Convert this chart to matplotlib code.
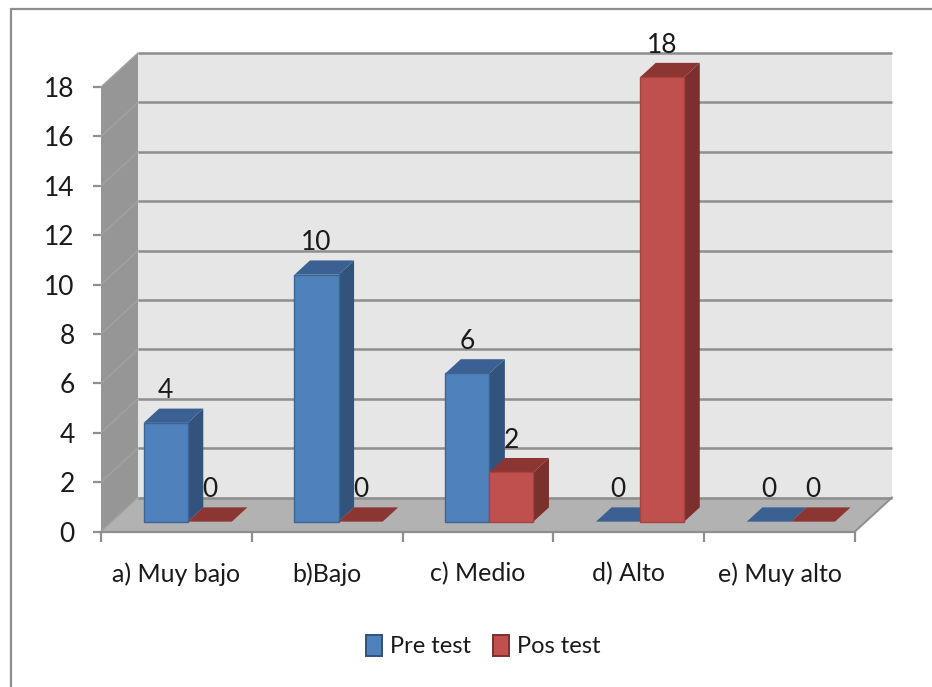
import matplotlib
matplotlib.use("Agg")
import matplotlib.pyplot as plt
from matplotlib.patches import Patch, Polygon, Rectangle

# ── Data ──────────────────────────────────────────────────────────────────────

categories = ["a) Muy bajo", "b)Bajo", "c) Medio", "d) Alto", "e) Muy alto"]
pre_test = [4, 10, 6, 0, 0]
pos_test = [0, 0, 2, 18, 0]
y_ticks = list(range(0, 20, 2))

# ── Style ─────────────────────────────────────────────────────────────────────

W, H = 932, 687
GRID = "#8e8e8e"
WALL = "#e6e6e6"
SIDE = "#969696"
FLOOR = "#b2b2b2"
TEXT = "#1a1a1a"
BLUE = ("#4f81bd", "#3b6597", "#31537c", "#3a6192")   # front, edge, side, top
RED = ("#c0504d", "#a8423f", "#7c302e", "#8c3633")

# depth of the box, in data units (37 px across, 34 px up)
DX = 37 / 150.8
DY = 34 / 24.7
BAR_W = 0.2925
BAR_START = 0.2115
D0, D1 = 0.29, 0.71   # bars sit in the middle of the depth

plt.rcParams["font.family"] = ["Lato", "DejaVu Sans"]

fig = plt.figure(figsize=(W / 100, H / 100), dpi=100)
fig.add_artist(Rectangle((10.5 / W, -0.1), 1.1, 1.1 - 9 / H, transform=fig.transFigure,
                         fc="white", ec=GRID, lw=1.6, zorder=-1))

ax = fig.add_axes([101 / W, (H - 531.5) / H, 754 / W, 444.5 / H])
ax.set_xlim(0, len(categories))
ax.set_ylim(0, 18)
ax.patch.set_visible(False)
for s in ["top", "left", "right"]:
    ax.spines[s].set_visible(False)
ax.spines["bottom"].set_color(GRID)
ax.spines["bottom"].set_linewidth(1.6)


def poly(pts, fc, ec="none", lw=0.0, z=1):
    ax.add_patch(Polygon(pts, closed=True, fc=fc, ec=ec, lw=lw, zorder=z, clip_on=False))


def at(x, y, d):
    return (x + d * DX, y + d * DY)


# ── Box: back wall, side wall, floor ──────────────────────────────────────────

n = len(categories)
poly([at(0, 0, 1), at(n, 0, 1), at(n, 18, 1), at(0, 18, 1)], WALL)
poly([at(0, 0, 0), at(0, 0, 1), at(0, 18, 1), at(0, 18, 0)], SIDE)
poly([at(0, 0, 0), at(n, 0, 0), at(n, 0, 1), at(0, 0, 1)], FLOOR)

for v in y_ticks:
    bx, by = at(0, v, 1)
    ex, _ = at(n, v, 1)
    ax.plot([bx, ex], [by, by], color=GRID, lw=1.8, zorder=2, clip_on=False,
            solid_capstyle="butt")
    ax.plot([0, bx], [v, by], color="#a2a2a2", lw=1.0, zorder=2, clip_on=False)
fx, fy = at(n, 0, 1)
ax.plot([n, fx], [0, fy], color=GRID, lw=1.4, zorder=2, clip_on=False)

# ── Bars ──────────────────────────────────────────────────────────────────────


def bar3d(x0, value, colors, z):
    front, edge, side, top = colors
    x1 = x0 + BAR_W
    if value > 0:
        poly([at(x1, 0, D0), at(x1, 0, D1), at(x1, value, D1), at(x1, value, D0)], side, z=z)
    poly([at(x0, value, D0), at(x1, value, D0), at(x1, value, D1), at(x0, value, D1)], top, z=z)
    if value > 0:
        poly([at(x0, 0, D0), at(x1, 0, D0), at(x1, value, D0), at(x0, value, D0)],
             front, ec=edge, lw=1.0, z=z + 0.1)


z = 3
for i in range(n):
    x_pre = i + BAR_START
    x_pos = x_pre + BAR_W
    for x0, value, colors in [(x_pre, pre_test[i], BLUE), (x_pos, pos_test[i], RED)]:
        bar3d(x0, value, colors, z)
        ax.annotate(str(value), at(x0 + BAR_W / 2, value, D0), xytext=(0, 23),
                    textcoords="offset points", ha="center", va="center",
                    fontsize=19, color=TEXT, zorder=20, annotation_clip=False)
        z += 1

# ── Axes ──────────────────────────────────────────────────────────────────────

ax.set_yticks(y_ticks)
ax.tick_params(axis="y", length=5.8, width=1.6, color=GRID, pad=13,
               labelsize=19, labelcolor=TEXT)
ax.set_xticks(range(n + 1))
ax.set_xticklabels([])
ax.tick_params(axis="x", which="major", length=7, width=1.6, color=GRID)
ax.set_xticks([i + 0.5 for i in range(n)], minor=True)
ax.set_xticklabels(categories, minor=True)
ax.tick_params(axis="x", which="minor", length=0, pad=22, labelsize=18, labelcolor=TEXT)

handles = [Patch(fc=BLUE[0], ec=BLUE[2], lw=1.4, label="Pre test"),
           Patch(fc=RED[0], ec=RED[2], lw=1.4, label="Pos test")]
fig.legend(handles=handles, ncol=2, frameon=False, loc="center",
           bbox_to_anchor=(483 / W, (H - 646) / H), fontsize=17, labelcolor=TEXT,
           handlelength=0.68, handleheight=1.0, handletextpad=0.32, columnspacing=0.95)

fig.savefig("out.png", dpi=100)
